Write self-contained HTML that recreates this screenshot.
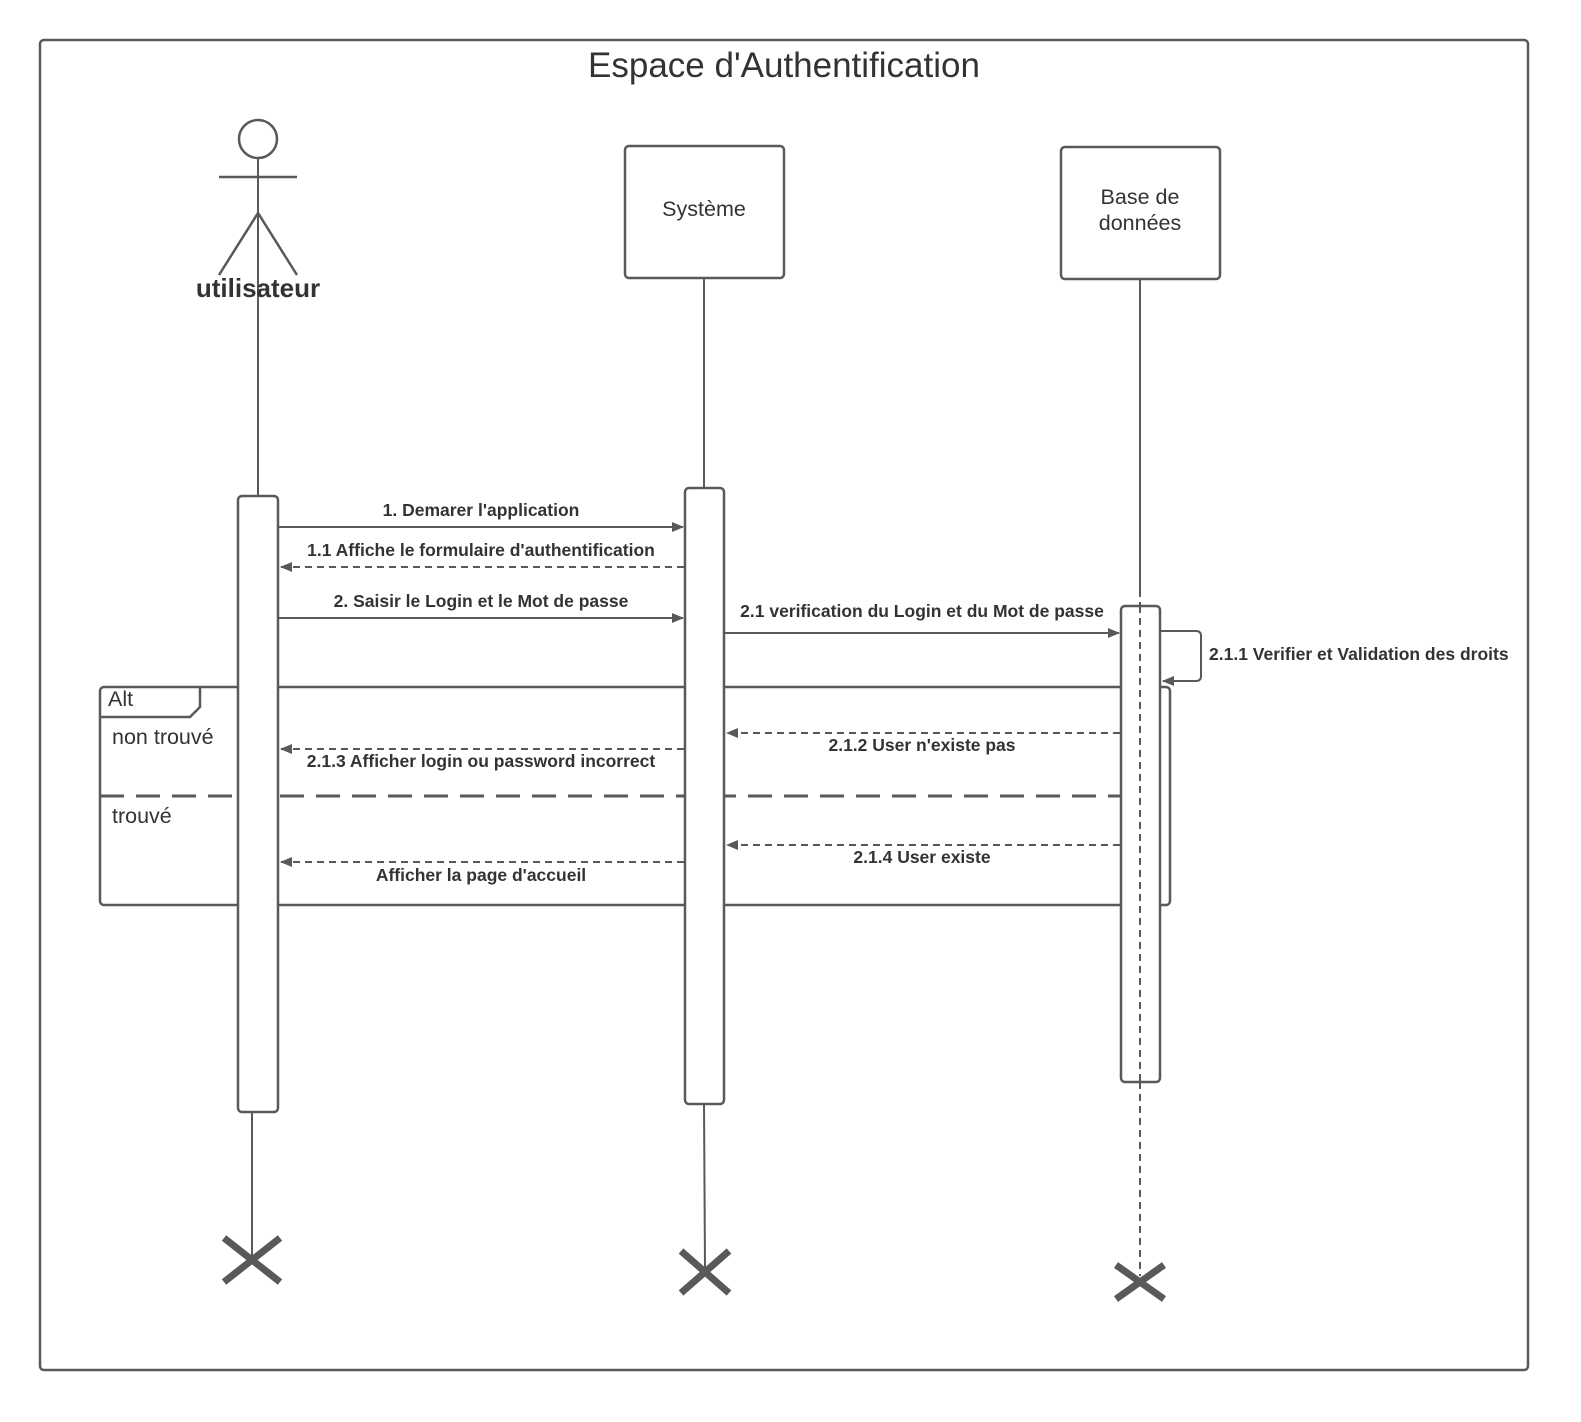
<!DOCTYPE html>
<html><head><meta charset="utf-8"><style>
html,body{margin:0;padding:0;background:#fff;width:1581px;height:1422px;overflow:hidden;}
svg{display:block;}
text{font-family:"Liberation Sans",sans-serif;fill:#333;}
.b{font-weight:bold;font-size:17.5px;}
</style></head><body>
<svg width="1581" height="1422" viewBox="0 0 1581 1422" xmlns="http://www.w3.org/2000/svg">
<defs>
<marker id="ah" markerWidth="12" markerHeight="10" refX="11" refY="5" orient="auto" markerUnits="userSpaceOnUse">
<path d="M0,0 L12,5 L0,10 Z" fill="#595959"/></marker>
</defs>
<g stroke="#595959" fill="none">
<rect x="40" y="40" width="1488" height="1330" rx="4" stroke-width="2.5"/>
<circle cx="258" cy="139" r="19" stroke-width="2.5"/>
<line x1="258" y1="158" x2="258" y2="496" stroke-width="2"/>
<line x1="219" y1="177" x2="297" y2="177" stroke-width="2.5"/>
<path d="M219,275 L258,213 L297,275" stroke-width="2.5"/>
<rect x="625" y="146" width="159" height="132" rx="4" stroke-width="2.5"/>
<line x1="704" y1="278" x2="704" y2="488" stroke-width="2"/>
<rect x="1061" y="147" width="159" height="132" rx="4" stroke-width="2.5"/>
<line x1="1140" y1="279" x2="1140" y2="590" stroke-width="2"/>
<line x1="252" y1="1112" x2="252" y2="1258" stroke-width="2"/>
<line x1="704" y1="1104" x2="705" y2="1268" stroke-width="2"/>
<line x1="1140" y1="590" x2="1140" y2="1276" stroke-width="2" stroke-dasharray="7,5"/>
<rect x="100" y="687" width="1070" height="218" rx="4" stroke-width="2.5"/>
<path d="M100,717 L190,717 L200,707 L200,687" stroke-width="2.5"/>
<line x1="100" y1="796" x2="1140" y2="796" stroke-width="3" stroke-dasharray="24,12"/>
</g>
<g stroke="#595959" fill="#fff" stroke-width="2.5">
<rect x="238" y="496" width="40" height="616" rx="4"/>
<rect x="685" y="488" width="39" height="616" rx="4"/>
<rect x="1121" y="606" width="39" height="476" rx="4"/>
</g>
<line x1="1140" y1="606" x2="1140" y2="1082" stroke="#595959" stroke-width="2" stroke-dasharray="7,5"/>
<g stroke="#595959" stroke-width="7">
<path d="M224,1238 L280,1282 M280,1238 L224,1282"/>
<path d="M681,1251 L729,1293 M729,1251 L681,1293"/>
<path d="M1116,1265 L1164,1299 M1164,1265 L1116,1299"/>
</g>
<g stroke="#595959" stroke-width="2" fill="none">
<line x1="278" y1="527" x2="683" y2="527" marker-end="url(#ah)"/>
<line x1="684" y1="567" x2="281" y2="567" stroke-dasharray="7,5" marker-end="url(#ah)"/>
<line x1="278" y1="618" x2="683" y2="618" marker-end="url(#ah)"/>
<line x1="724" y1="633" x2="1119" y2="633" marker-end="url(#ah)"/>
<path d="M1160,631 L1196,631 Q1201,631 1201,636 L1201,676 Q1201,681 1196,681 L1163,681" marker-end="url(#ah)"/>
<line x1="1120" y1="733" x2="727" y2="733" stroke-dasharray="7,5" marker-end="url(#ah)"/>
<line x1="684" y1="749" x2="281" y2="749" stroke-dasharray="7,5" marker-end="url(#ah)"/>
<line x1="1120" y1="845" x2="727" y2="845" stroke-dasharray="7,5" marker-end="url(#ah)"/>
<line x1="684" y1="862" x2="281" y2="862" stroke-dasharray="7,5" marker-end="url(#ah)"/>
</g>
<text x="784" y="77" font-size="35" text-anchor="middle">Espace d'Authentification</text>
<text x="258" y="297" font-size="26" font-weight="bold" text-anchor="middle">utilisateur</text>
<text x="704" y="216" font-size="21.5" text-anchor="middle">Système</text>
<text x="1140" y="204" font-size="21.5" text-anchor="middle">Base de</text>
<text x="1140" y="230" font-size="21.5" text-anchor="middle">données</text>
<text class="b" x="481" y="516" text-anchor="middle">1. Demarer l'application</text>
<text class="b" x="481" y="556" text-anchor="middle">1.1 Affiche le formulaire d'authentification</text>
<text class="b" x="481" y="607" text-anchor="middle">2. Saisir le Login et le Mot de passe</text>
<text class="b" x="922" y="617" text-anchor="middle">2.1 verification du Login et du Mot de passe</text>
<text class="b" x="1209" y="660">2.1.1 Verifier et Validation des droits</text>
<text x="108" y="706" font-size="21.5">Alt</text>
<text x="112" y="744" font-size="21.5">non trouvé</text>
<text x="112" y="823" font-size="21.5">trouvé</text>
<text class="b" x="922" y="751" text-anchor="middle">2.1.2 User n'existe pas</text>
<text class="b" x="481" y="767" text-anchor="middle">2.1.3 Afficher login ou password incorrect</text>
<text class="b" x="922" y="863" text-anchor="middle">2.1.4 User existe</text>
<text class="b" x="481" y="881" text-anchor="middle">Afficher la page d'accueil</text>
</svg>
</body></html>
